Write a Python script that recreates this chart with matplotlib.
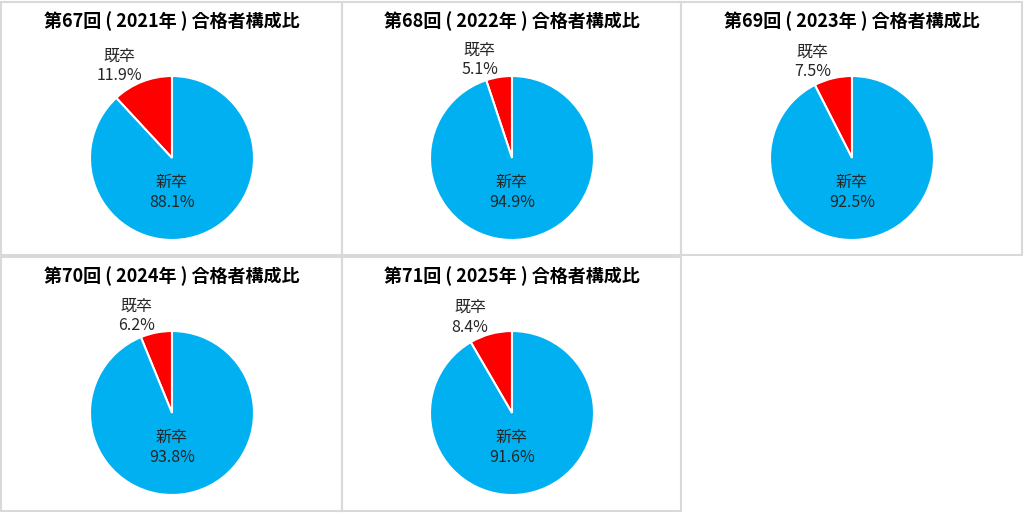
import matplotlib
matplotlib.use("Agg")
import matplotlib.pyplot as plt
from matplotlib.patches import Rectangle
import numpy as np

plt.rcParams['font.family'] = ['Noto Sans CJK JP', 'DejaVu Sans']

rounds = [67, 68, 69, 70, 71]
years = [2021, 2022, 2023, 2024, 2025]
categories = ["既卒", "新卒"]
kisotsu = [11.9, 5.1, 7.5, 6.2, 8.4]
shinsotsu = [88.1, 94.9, 92.5, 93.8, 91.6]
colors = ["#FF0000", "#00B0F0"]

W, H = 1024, 513
fig = plt.figure(figsize=(W / 100, H / 100), dpi=100)
fig.patch.set_facecolor("white")

def fx(px):
    return px / W

def fy(py):
    return 1 - py / H

# panel frames (pixel boxes: left, top, right, bottom)
panels = [(1, 2, 342, 255), (342, 2, 681, 255), (681, 2, 1022, 255),
          (1, 257, 342, 511), (342, 257, 681, 511)]
for (l, t, r, b) in panels:
    fig.add_artist(Rectangle((fx(l), fy(b)), fx(r) - fx(l), fy(t) - fy(b),
                             transform=fig.transFigure, fill=False,
                             edgecolor="#d9d9d9", linewidth=1.5))

R = 82
txt_color = "#262626"
for i in range(5):
    l, t, r, b = panels[i]
    cx = (l + r) / 2 + 0.5
    cy = t + 156
    ax = fig.add_axes([fx(cx - R), fy(cy + R), 2 * R / W, 2 * R / H])
    vals = [kisotsu[i], shinsotsu[i]]
    wedges, _ = ax.pie(vals, colors=colors, startangle=90, counterclock=True,
                       radius=1, wedgeprops=dict(edgecolor="white", linewidth=1.5))
    ax.set_xlim(-1, 1)
    ax.set_ylim(-1, 1)
    ax.set_aspect("equal")
    ax.axis("off")
    # outside label for 既卒
    theta = np.deg2rad(90 + vals[0] * 3.6 / 2)
    lx = 1.2 * np.cos(theta) - 0.2
    ly = 1.21 * np.sin(theta)
    ax.text(lx, ly, f"{categories[0]}\n{vals[0]:.1f}%", ha="center", va="center",
            multialignment="center", fontsize=11.5, color=txt_color,
            linespacing=1.2, clip_on=False)
    # inside label for 新卒
    ax.text(0, -0.42, f"{categories[1]}\n{vals[1]:.1f}%", ha="center", va="center",
            multialignment="center", fontsize=11.5, color=txt_color,
            linespacing=1.2, clip_on=False)
    # title
    fig.text(fx(cx), fy(t + 19), f"第{rounds[i]}回 ( {years[i]}年 ) 合格者構成比",
             ha="center", va="center", fontsize=13, fontweight="bold", color="#000000")

fig.savefig("out.png", dpi=100, facecolor="white")
